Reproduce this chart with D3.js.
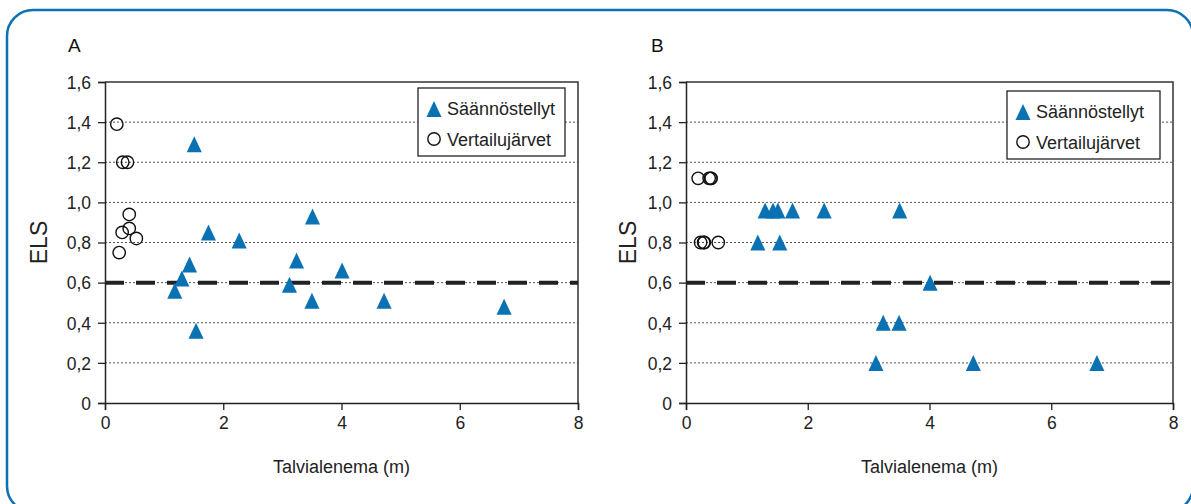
<!DOCTYPE html>
<html>
<head>
<meta charset="utf-8">
<script src="https://cdn.jsdelivr.net/npm/d3@7"></script>
<style>
  html, body { margin: 0; padding: 0; background: #fff; }
  svg { display: block; }
  .narrow { font-family: "Liberation Sans Narrow", "Arial Narrow", "Liberation Sans", sans-serif; }
</style>
</head>
<body>
<svg id="chart" width="1191" height="504"></svg>
<script>
// Talvialenema (m) for the regulated lakes (same lakes in both panels)
const regulatedDrawdown = [1.51, 3.51, 1.75, 2.27, 1.43, 3.24, 1.30, 1.18, 3.12, 4.01, 3.50, 1.54, 4.72, 6.75];
const regulatedElsA     = [1.29, 0.93, 0.85, 0.81, 0.69, 0.71, 0.62, 0.56, 0.59, 0.66, 0.51, 0.36, 0.51, 0.48];
const regulatedElsB     = [0.96, 0.96, 0.96, 0.96, 0.96, 0.40, 0.96, 0.80, 0.20, 0.60, 0.40, 0.80, 0.20, 0.20];

// reference lakes
const referenceDrawdown = [0.20, 0.30, 0.38, 0.41, 0.41, 0.29, 0.53, 0.24];
const referenceElsA     = [1.39, 1.20, 1.20, 0.94, 0.87, 0.85, 0.82, 0.75];
const referenceElsB     = [1.12, 0.80, 1.12, 1.12, 1.12, 0.80, 0.80, 0.80];

const xTicks = [0, 2, 4, 6, 8];
const yTicks = [0, 0.2, 0.4, 0.6, 0.8, 1.0, 1.2, 1.4, 1.6];
const threshold = 0.6;
const seriesNames = ["Säännöstellyt", "Vertailujärvet"];
const panelLabels = ["A", "B"];

const blue = "#0a71b3";
const svg = d3.select("#chart");

// outer rounded frame
svg.append("rect")
  .attr("x", 7).attr("y", 10)
  .attr("width", 1186).attr("height", 502)
  .attr("rx", 26).attr("ry", 26)
  .attr("fill", "none")
  .attr("stroke", blue)
  .attr("stroke-width", 2.5);

const panels = [
  { label: panelLabels[0], left: 105, right: 578, labelX: 68, elsX: 47,
    reg: regulatedElsA, ref: referenceElsA, legend: { x: 418, y: 88, w: 147, h: 68 } },
  { label: panelLabels[1], left: 686, right: 1173, labelX: 651, elsX: 636,
    reg: regulatedElsB, ref: referenceElsB, legend: { x: 1007, y: 91, w: 153, h: 68 } }
];

const plotTop = 82, plotBottom = 403;
const fmt = d => d === 0 ? "0" : d3.format(".1f")(d).replace(".", ",");

// Excel-like marker: slightly taller than an equilateral triangle
const excelTriangle = {
  draw(ctx, size) {
    const h = Math.sqrt(size), w = h * 0.94;
    ctx.moveTo(0, -h / 2);
    ctx.lineTo(w / 2, h / 2);
    ctx.lineTo(-w / 2, h / 2);
    ctx.closePath();
  }
};
const triangle = d3.symbol().type(excelTriangle).size(256);

panels.forEach(p => {
  const x = d3.scaleLinear().domain([0, 8]).range([p.left, p.right]);
  const y = d3.scaleLinear().domain([0, 1.6]).range([plotBottom, plotTop]);
  const g = svg.append("g");

  // panel letter
  g.append("text")
    .attr("x", p.labelX).attr("y", 52)
    .attr("font-family", "Liberation Sans, Arial, sans-serif")
    .attr("font-size", 19)
    .attr("fill", "#111")
    .text(p.label);

  // dotted gridlines
  g.selectAll(".grid")
    .data(yTicks.filter(d => d > 0 && d < 1.6))
    .enter().append("line")
    .attr("x1", p.left).attr("x2", p.right)
    .attr("y1", d => y(d)).attr("y2", d => y(d))
    .attr("stroke", "#555")
    .attr("stroke-width", 1)
    .attr("stroke-dasharray", "2,2");

  // top and right frame
  g.append("path")
    .attr("d", `M${p.left},${plotTop}H${p.right}V${plotBottom}`)
    .attr("fill", "none")
    .attr("stroke", "#333")
    .attr("stroke-width", 1.5);

  // axes
  const yAxis = g.append("g")
    .attr("transform", `translate(${p.left},0)`)
    .call(d3.axisLeft(y).tickValues(yTicks).tickFormat(fmt).tickSize(7).tickPadding(7));
  const xAxis = g.append("g")
    .attr("transform", `translate(0,${plotBottom})`)
    .call(d3.axisBottom(x).tickValues(xTicks).tickSize(7).tickPadding(7));

  [yAxis, xAxis].forEach(a => {
    a.select(".domain").attr("stroke", "#222").attr("stroke-width", 1.5);
    a.selectAll(".tick line").attr("stroke", "#222").attr("stroke-width", 1.3);
    a.selectAll("text")
      .attr("class", "narrow")
      .attr("font-size", 17.5)
      .attr("fill", "#222");
  });
  yAxis.selectAll("text").attr("dy", "0.36em");

  // threshold line
  g.append("line")
    .attr("x1", p.left).attr("x2", p.right)
    .attr("y1", y(threshold)).attr("y2", y(threshold))
    .attr("stroke", "#222")
    .attr("stroke-width", 4)
    .attr("stroke-dasharray", "19,12");

  // reference lakes
  g.selectAll(".ref")
    .data(referenceDrawdown.map((d, i) => [d, p.ref[i]]))
    .enter().append("circle")
    .attr("cx", d => x(d[0])).attr("cy", d => y(d[1]))
    .attr("r", 6.2)
    .attr("fill", "none")
    .attr("stroke", "#111")
    .attr("stroke-width", 1.4);

  // regulated lakes
  g.selectAll(".reg")
    .data(regulatedDrawdown.map((d, i) => [d, p.reg[i]]))
    .enter().append("path")
    .attr("d", triangle)
    .attr("transform", d => `translate(${x(d[0])},${y(d[1])})`)
    .attr("fill", blue);

  // axis titles
  g.append("text")
    .attr("class", "narrow")
    .attr("x", (p.left + p.right) / 2).attr("y", 473)
    .attr("text-anchor", "middle")
    .attr("font-size", 18)
    .attr("fill", "#222")
    .text("Talvialenema (m)");

  g.append("text")
    .attr("transform", `translate(${p.elsX},${(plotTop + plotBottom) / 2}) rotate(-90)`)
    .attr("text-anchor", "middle")
    .attr("font-family", "Liberation Sans, Arial, sans-serif")
    .attr("font-size", 23)
    .attr("fill", "#222")
    .text("ELS");

  // legend
  const L = p.legend;
  const lg = g.append("g");
  lg.append("rect")
    .attr("x", L.x).attr("y", L.y).attr("width", L.w).attr("height", L.h)
    .attr("fill", "#fff")
    .attr("stroke", "#222")
    .attr("stroke-width", 1.3);
  lg.append("path")
    .attr("d", triangle)
    .attr("transform", `translate(${L.x + 16},${L.y + 21})`)
    .attr("fill", blue);
  lg.append("circle")
    .attr("cx", L.x + 16).attr("cy", L.y + 51)
    .attr("r", 6.2)
    .attr("fill", "none")
    .attr("stroke", "#111")
    .attr("stroke-width", 1.4);
  lg.selectAll(".ltxt")
    .data(seriesNames)
    .enter().append("text")
    .attr("class", "narrow")
    .attr("x", L.x + 29)
    .attr("y", (d, i) => L.y + 27 + i * 31)
    .attr("font-size", 18)
    .attr("fill", "#222")
    .text(d => d);
});
</script>
</body>
</html>
